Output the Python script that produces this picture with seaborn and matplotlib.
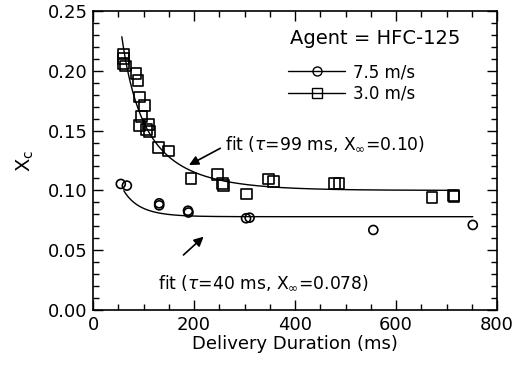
import numpy as np
import pandas as pd
import matplotlib
matplotlib.use("Agg")
import matplotlib.pyplot as plt
from matplotlib.lines import Line2D
from matplotlib.ticker import MultipleLocator
import seaborn as sns

# ---- data ----
t_sq = [61, 60, 61, 64, 85, 89, 92, 102, 96, 92, 110, 106, 112, 130, 149,
        194, 247, 257, 258, 304, 347, 358, 478, 487, 671, 714, 715]
x_sq = [0.214, 0.210, 0.206, 0.204, 0.198, 0.192, 0.178, 0.171, 0.162, 0.154,
        0.155, 0.151, 0.149, 0.136, 0.133, 0.110, 0.1135, 0.106, 0.104, 0.097,
        0.1095, 0.1076, 0.106, 0.106, 0.094, 0.0956, 0.0950]

t_ci = [55, 67, 131, 131, 188, 189, 303, 310, 555, 752]
x_ci = [0.1054, 0.104, 0.0892, 0.0875, 0.083, 0.0815, 0.0767, 0.0772, 0.0669, 0.0711]

# fit parameters (from annotation text)
tau_sq, xinf_sq, range_sq = 99.0, 0.10, (57, 720)
tau_ci, xinf_ci, range_ci = 40.0, 0.078, (61, 752)

fit_sq_label = r"fit ($\tau$=99 ms, X$_{\infty}$=0.10)"
fit_ci_label = r"fit ($\tau$=40 ms, X$_{\infty}$=0.078)"
legend_title = "Agent = HFC-125"
labels = ["7.5 m/s", "3.0 m/s"]

x_ticks = [0, 200, 400, 600, 800]
y_ticks = [0.00, 0.05, 0.10, 0.15, 0.20, 0.25]

sns.set_theme(style="ticks")
plt.rcParams['font.family'] = ['DejaVu Sans']
plt.rcParams['mathtext.fontset'] = 'dejavusans'
plt.rcParams['text.color'] = 'black'
plt.rcParams['axes.labelcolor'] = 'black'
plt.rcParams['xtick.color'] = 'black'
plt.rcParams['ytick.color'] = 'black'

fig = plt.figure(figsize=(5.14, 3.66), dpi=100)
ax = fig.add_axes([0.181, 0.153, 0.786, 0.817])

def fit_curve(tau, xinf, rng):
    t = np.linspace(rng[0], rng[1], 400)
    return pd.DataFrame({"t": t, "x": xinf / (1 - np.exp(-t / tau))})

fsq = fit_curve(tau_sq, xinf_sq, range_sq)
fci = fit_curve(tau_ci, xinf_ci, range_ci)
sns.lineplot(data=fsq, x="t", y="x", ax=ax, color="black", lw=1.0, sort=False)
sns.lineplot(data=fci, x="t", y="x", ax=ax, color="black", lw=1.0, sort=False)

dsq = pd.DataFrame({"t": t_sq, "x": x_sq})
dci = pd.DataFrame({"t": t_ci, "x": x_ci})
sns.scatterplot(data=dsq, x="t", y="x", ax=ax, marker="s", s=60,
                facecolor="none", edgecolor="black", linewidth=1.2)
sns.scatterplot(data=dci, x="t", y="x", ax=ax, marker="o", s=42,
                facecolor="none", edgecolor="black", linewidth=1.2)

ax.set_xlim(0, 800)
ax.set_ylim(0, 0.25)
ax.set_xticks(x_ticks)
ax.set_yticks(y_ticks)
ax.set_yticklabels([f"{v:.2f}" for v in y_ticks])
ax.xaxis.set_minor_locator(MultipleLocator(50))
ax.yaxis.set_minor_locator(MultipleLocator(0.01))
ax.tick_params(which="both", direction="in", top=True, right=True,
               colors="black", labelcolor="black", labelsize=13, width=1.0)
ax.tick_params(which="major", length=7, pad=4)
ax.tick_params(which="minor", length=4)
for sp in ax.spines.values():
    sp.set_color("black")
    sp.set_linewidth(1.2)

ax.set_xlabel("Delivery Duration (ms)", fontsize=13, color="black", labelpad=1)
ax.set_ylabel(r"X$_\mathregular{c}$", fontsize=14, color="black", labelpad=8)

# annotations
ax.annotate("", xy=(190, 0.1212), xytext=(252, 0.1352),
            arrowprops=dict(arrowstyle="-|>", color="black", lw=1.2,
                            mutation_scale=14, shrinkA=0, shrinkB=0))
ax.text(261, 0.139, fit_sq_label, fontsize=12.3, va="center", ha="left",
        color="black")
ax.annotate("", xy=(219, 0.0613), xytext=(179, 0.046),
            arrowprops=dict(arrowstyle="-|>", color="black", lw=1.2,
                            mutation_scale=14, shrinkA=0, shrinkB=0))
ax.text(128, 0.0226, fit_ci_label, fontsize=12.3, va="center", ha="left",
        color="black")

# legend (title drawn as text above entries)
ax.text(390, 0.2274, legend_title, fontsize=14, va="center", ha="left",
        color="black")
handles = [Line2D([], [], color="black", lw=1.0, marker="o", ms=6.5,
                  mfc="none", mec="black"),
           Line2D([], [], color="black", lw=1.0, marker="s", ms=6.5,
                  mfc="none", mec="black")]
leg = ax.legend(handles, labels, loc="upper left",
                bbox_to_anchor=(0.483, 0.825), frameon=False, fontsize=12,
                handlelength=3.4, handletextpad=0.5, labelspacing=0.2,
                borderpad=0, borderaxespad=0)
for txt in leg.get_texts():
    txt.set_color("black")

fig.savefig("out.png", dpi=100)
